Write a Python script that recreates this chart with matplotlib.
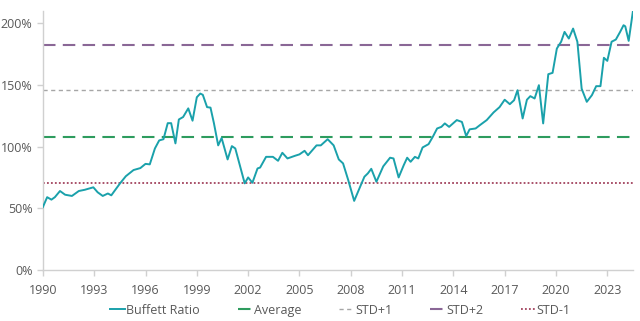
import numpy as np
import matplotlib.pyplot as plt
from matplotlib.ticker import FuncFormatter

# Buffett ratio (market cap / GDP), percent, by fractional year
years = [1990.0, 1990.25, 1990.5, 1990.7, 1991.0, 1991.3, 1991.7, 1992.1, 1992.45,
         1992.95, 1993.2, 1993.5, 1993.8, 1994.0, 1994.5, 1994.85, 1995.3, 1995.7,
         1996.0, 1996.25, 1996.55, 1996.8, 1997.05, 1997.3, 1997.5, 1997.75, 1997.95,
         1998.2, 1998.5, 1998.75, 1999.0, 1999.2, 1999.35, 1999.6, 1999.8, 2000.0,
         2000.25, 2000.45, 2000.8, 2001.05, 2001.25, 2001.8, 2002.0, 2002.25, 2002.55,
         2002.7, 2003.05, 2003.45, 2003.75, 2004.0, 2004.3, 2004.75, 2005.0, 2005.3,
         2005.5, 2006.0, 2006.25, 2006.65, 2007.0, 2007.3, 2007.55, 2007.85, 2008.2,
         2008.55, 2008.8, 2009.0, 2009.2, 2009.5, 2009.9, 2010.3, 2010.5, 2010.8,
         2011.1, 2011.3, 2011.5, 2011.75, 2011.95, 2012.2, 2012.55, 2012.8, 2013.05,
         2013.3, 2013.5, 2013.75, 2014.2, 2014.5, 2014.75, 2014.95, 2015.3, 2015.55,
         2015.95, 2016.35, 2016.7, 2017.0, 2017.3, 2017.55, 2017.75, 2018.05, 2018.3,
         2018.5, 2018.75, 2019.0, 2019.25, 2019.55, 2019.8, 2020.05, 2020.3, 2020.5,
         2020.75, 2021.0, 2021.25, 2021.5, 2021.8, 2022.1, 2022.35, 2022.6, 2022.8,
         2023.0, 2023.25, 2023.5, 2023.75, 2023.95, 2024.05, 2024.25, 2024.5]
ratio = [51, 59, 57, 59, 64, 61, 60, 64, 65,
         67, 63, 60, 62, 60.5, 70, 76, 81, 82.6,
         86, 85.6, 98.5, 105, 106, 119, 119, 102.6, 122,
         124, 131, 121, 140, 143, 142, 132, 131.6, 119,
         101, 107, 89.6, 100.4, 98.5, 70.2, 75, 70.7, 82.3,
         83, 91.7, 91.7, 88.5, 95, 90.4, 92.6, 93.7, 96.6,
         93, 101, 101, 106, 101, 89.6, 86.4, 73, 56,
         67.5, 75.6, 78.3, 82, 71.5, 84, 91, 90.4, 75,
         85, 91, 87.7, 91.7, 90.4, 99.3, 102, 108, 114.7,
         116, 118.8, 116, 121.5, 120, 108.5, 114, 114.7, 117.4,
         121.5, 127.7, 132, 138, 134.4, 137.6, 145.7, 122.8, 138,
         140.9, 139, 149.8, 118.8, 158.7, 159.8, 179.5, 185, 193,
         187.6, 195.7, 185, 147, 136.3, 141.7, 149, 149, 172,
         169.5, 185, 186.8, 193, 198.4, 197.5, 185.7, 210]

average = 108
std_plus1 = 145.5
std_plus2 = 182.7
std_minus1 = 70.5

xticks = list(range(1990, 2024, 3))
yticks = [0, 50, 100, 150, 200]

plt.rcParams['font.family'] = ['Open Sans', 'DejaVu Sans']

fig = plt.figure(figsize=(6.4, 3.21), dpi=100)
ax = fig.add_axes([0.067, 0.159, 0.922, 0.807])

ax.plot(years, ratio, color='#1aa1ab', lw=1.4, label='Buffett Ratio', zorder=5)
ax.axhline(average, color='#2e9c5e', lw=1.5, ls=(0, (6, 3.5)), label='Average')
ax.axhline(std_plus1, color='#a6a6a6', lw=1.0, ls=(0, (3, 2.5)), label='STD+1')
ax.axhline(std_plus2, color='#8a6796', lw=1.5, ls=(0, (6, 3.5)), label='STD+2')
ax.axhline(std_minus1, color='#a2435e', lw=1.3, ls=(0, (1, 1.2)), label='STD-1')

ax.set_xlim(1990, 2024.5)
ax.set_ylim(0, 210)
ax.set_xticks(xticks)
ax.set_yticks(yticks)
ax.yaxis.set_major_formatter(FuncFormatter(lambda v, p: '{:d}%'.format(int(v))))

for s in ['top', 'right']:
    ax.spines[s].set_visible(False)
for s in ['left', 'bottom']:
    ax.spines[s].set_color('#d0d0d0')
    ax.spines[s].set_linewidth(1.0)
ax.tick_params(colors='#d0d0d0', labelcolor='#595959', labelsize=9, length=4, width=1)
ax.tick_params(axis='x', pad=6)

fig.legend(loc='center', bbox_to_anchor=(0.532, 0.034), ncol=5, frameon=False,
           fontsize=9, labelcolor='#595959', handlelength=1.2, handletextpad=0.1,
           columnspacing=3.0)

fig.savefig('out.png', dpi=100)
